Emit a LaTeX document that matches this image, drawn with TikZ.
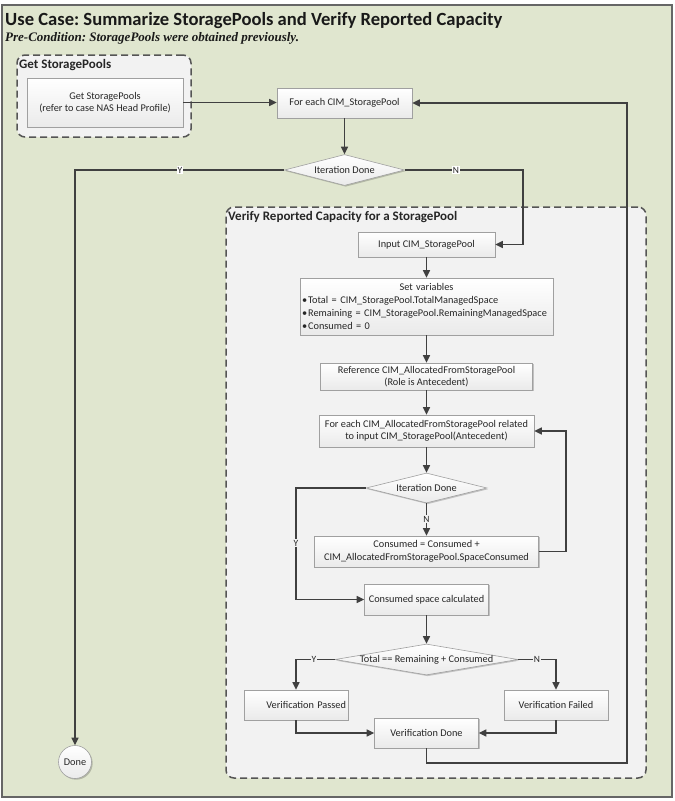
\documentclass[tikz,border=0pt]{standalone}
\usepackage{fontspec}
\setmainfont{Carlito}
\newfontfamily\precondfont{Liberation Serif}
\usetikzlibrary{arrows.meta,shapes.geometric,shadows,calc}
\definecolor{bgc}{HTML}{E0E6CF}
\definecolor{grpc}{HTML}{F2F2F2}
\definecolor{linec}{HTML}{404040}
\definecolor{boxb}{HTML}{A0A0A0}
\definecolor{boxbot}{HTML}{EAEAEA}
\definecolor{dashc}{HTML}{555555}
\newcommand{\zt}[1]{\raisebox{-0.33em}[0pt][0pt]{\makebox[0pt]{#1}}}
\frenchspacing
\begin{document}
\begin{tikzpicture}[x=1pt,y=-1pt,
  bodyfont/.style={font=\fontsize{10.3}{12.5}\selectfont},
  line/.style={draw=linec, line width=1.2pt},
  arr/.style={line, -{Triangle[length=7.5pt,width=7pt]}},
  box/.style={draw=boxb, line width=0.6pt, top color=white, bottom color=boxbot,
    inner sep=0pt, align=center, bodyfont, text=black!85,
    drop shadow={shadow xshift=1.2pt, shadow yshift=-1.2pt, opacity=0.2, fill=black}},
  dia/.style={box, shape=diamond, inner sep=0pt},
  grp/.style={draw=dashc, line width=1.5pt, dash pattern=on 7pt off 4pt, rounded corners=8pt, fill=grpc, inner sep=0pt},
  grplabel/.style={font=\fontsize{13}{15}\bfseries, text=black!85, inner sep=0pt, anchor=west},
  yn/.style={font=\fontsize{9.5}{10}\selectfont, inner sep=0.6pt, text=black!85}
]
\useasboundingbox (0,0) rectangle (675,801);
% outer frame
\node[draw=black!60, line width=1.5pt, fill=bgc, minimum width=670, minimum height=792, inner sep=0pt] (frame) at (337,401) {};
\node[anchor=base west, inner sep=0pt, font=\fontsize{18.6}{20}\bfseries, text=black!90] (title) at (5,25) {Use Case: Summarize StoragePools and Verify Reported Capacity};
\node[anchor=base west, inner sep=0pt, font=\precondfont\fontsize{13}{15}\selectfont\bfseries\itshape, text=black!90] (pre) at (5,41.5) {Pre-Condition: StoragePools were obtained previously.};
% groups
\node[grp, minimum width=174, minimum height=82] (g1) at (104,96) {};
\node[grplabel] (g1l) at (19,65) {Get StoragePools};
\node[grp, minimum width=420, minimum height=571] (g2) at (436,492.5) {};
\node[grplabel] (g2l) at (228,217) {Verify Reported Capacity for a StoragePool};
% boxes
\node[box, minimum width=156, minimum height=49] (gsp) at (105,102.5) {Get StoragePools\\(refer to case NAS Head Profile)};
\node[box, minimum width=135, minimum height=30] (fe1) at (344.5,103) {For each CIM\_StoragePool};
\node[dia, minimum width=120, minimum height=31] (dia1) at (344.5,170) {\zt{Iteration Done}};
\node[box, circle, minimum size=33] (done) at (75,762) {Done};
\node[box, minimum width=137, minimum height=25] (inp) at (426.5,244.5) {Input CIM\_StoragePool};
\node[box, minimum width=253, minimum height=57, text width=249, inner xsep=2pt, align=left, font=\fontsize{10.3}{13}\selectfont] (setv) at (426.5,306.5) {\makebox[249pt]{Set variables}\\
\textbullet\hspace{1pt}Total = CIM\_StoragePool.TotalManagedSpace\\
\textbullet\hspace{1pt}Remaining = CIM\_StoragePool.RemainingManagedSpace\\
\textbullet\hspace{1pt}Consumed = 0};
\node[box, minimum width=212, minimum height=27] (ref) at (426.5,376.5) {Reference CIM\_AllocatedFromStoragePool\\(Role is Antecedent)};
\node[box, minimum width=215, minimum height=32] (fe2) at (426.5,431) {For each CIM\_AllocatedFromStoragePool related\\to input CIM\_StoragePool(Antecedent)};
\node[dia, minimum width=121, minimum height=30] (dia2) at (426.5,488) {\zt{Iteration Done}};
\node[box, minimum width=224, minimum height=31] (cons) at (426.5,551.5) {Consumed = Consumed +\\CIM\_AllocatedFromStoragePool.SpaceConsumed};
\node[box, minimum width=124, minimum height=31] (calc) at (426.5,599.5) {Consumed space calculated};
\node[dia, minimum width=183, minimum height=31] (dia3) at (426.5,659.5) {\zt{Total == Remaining + Consumed}};
\node[box, minimum width=104, minimum height=30, text width=100, align=right] (pass) at (296,705) {Verification Passed};
\node[box, minimum width=104, minimum height=30] (fail) at (556,705) {Verification Failed};
\node[box, minimum width=104, minimum height=30] (vdone) at (426.5,733) {Verification Done};
% helper coordinates
\coordinate (c1) at (627,763);
\coordinate (c2) at (523,0);
\coordinate (c3) at (296,0);
\coordinate (c4) at (566,0);
% connectors
\draw[arr] (gsp.east) -- (gsp.east -| fe1.west);
\draw[arr] (fe1.south) -- (dia1.north);
\draw[arr] (dia1.west) -| (done.north);
\draw[arr] (dia1.east) -| (c2 |- inp.east) -- (inp.east);
\draw[arr] (inp.south) -- (setv.north);
\draw[arr] (setv.south) -- (ref.north);
\draw[arr] (ref.south) -- (fe2.north);
\draw[arr] (fe2.south) -- (dia2.north);
\draw[arr] (dia2.south) -- (cons.north);
\draw[arr] (dia2.west) -| (c3 |- calc.west) -- (calc.west);
\draw[arr] (cons.east) -| (c4 |- fe2.east) -- (fe2.east);
\draw[arr] (calc.south) -- (dia3.north);
\draw[arr] (dia3.west) -| (pass.north);
\draw[arr] (dia3.east) -| (fail.north);
\draw[arr] (pass.south) |- (vdone.west);
\draw[arr] (fail.south) |- (vdone.east);
\draw[arr] (vdone.south) |- (c1) |- (fe1.east);
% Y/N labels
\node[yn, fill=white] (y1) at (180,170) {Y};
\node[yn, fill=white] (n1) at (456,170) {N};
\node[yn, fill=grpc] (n2) at (426.5,519) {N};
\node[yn, fill=grpc] (y2) at (296,543) {Y};
\node[yn, fill=grpc] (y3) at (314,659.5) {Y};
\node[yn, fill=grpc] (n3) at (537,659.5) {N};
\end{tikzpicture}
\end{document}
